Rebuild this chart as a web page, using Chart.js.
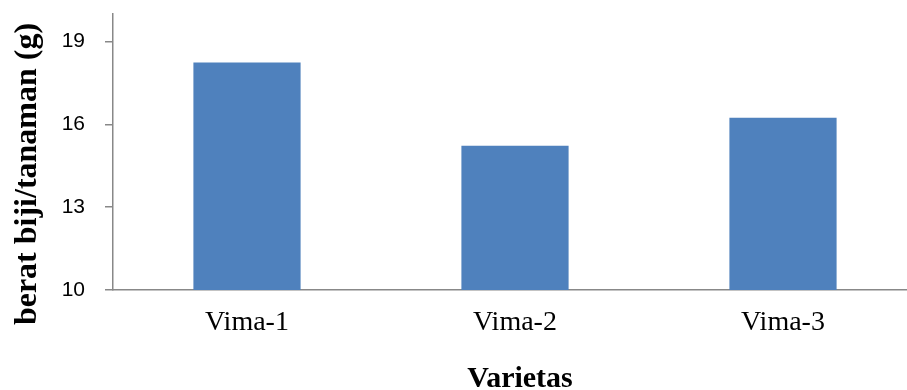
<!DOCTYPE html>
<html>
<head>
<meta charset="utf-8">
<script src="https://cdn.jsdelivr.net/npm/chart.js@4"></script>
<style>
  html, body { margin: 0; padding: 0; background: #fff; overflow: hidden; }
  #wrap { width: 920px; height: 390px; }
</style>
</head>
<body>
<div id="wrap"><canvas id="beratChart" width="920" height="390"></canvas></div>
<script>
// varietas dan berat biji per tanaman (g)
const varietas = ['Vima-1', 'Vima-2', 'Vima-3'];
const beratBiji = [18.24, 15.23, 16.24];
const yTicks = [10, 13, 16, 19];

const axisColor = '#888888';

// axis titles drawn by hand so they sit where the layout wants them
const axisTitles = {
    id: 'axisTitles',
    afterDraw(chart) {
        const ctx = chart.ctx;
        ctx.save();
        ctx.fillStyle = '#000';
        ctx.font = 'bold 32px "Liberation Serif", "Times New Roman", serif';
        ctx.textAlign = 'center';
        ctx.textBaseline = 'middle';
        ctx.translate(28, 174);
        ctx.rotate(-Math.PI / 2);
        ctx.fillText('berat biji/tanaman (g)', 0, 0);
        ctx.restore();

        ctx.save();
        ctx.fillStyle = '#000';
        ctx.font = 'bold 30px "Liberation Serif", "Times New Roman", serif';
        ctx.textAlign = 'center';
        ctx.textBaseline = 'alphabetic';
        ctx.fillText('Varietas', 520, 387);
        ctx.restore();
    }
};

// keep the scales from reserving extra room for their labels
function noLabelPadding(scale) {
    scale.paddingTop = 0;
    scale.paddingBottom = 0;
    scale.paddingLeft = 0;
    scale.paddingRight = 0;
}

const ctx = document.getElementById('beratChart');

new Chart(ctx, {
    type: 'bar',
    data: {
        labels: varietas,
        datasets: [{
            label: 'berat biji/tanaman (g)',
            data: beratBiji,
            backgroundColor: '#4F81BD',
            borderWidth: 0,
            barPercentage: 0.4,
            categoryPercentage: 1.0
        }]
    },
    options: {
        responsive: false,
        animation: false,
        layout: { padding: { top: 14, right: 3, left: 0, bottom: 0 } },
        plugins: {
            legend: { display: false },
            tooltip: { enabled: false }
        },
        scales: {
            x: {
                grid: { display: true, drawOnChartArea: false, drawTicks: false },
                border: { color: axisColor, width: 1.5 },
                ticks: {
                    color: '#000',
                    padding: 16,
                    font: { family: '"Liberation Serif", "Times New Roman", serif', size: 28 }
                },
                afterFit(scale) {
                    scale.height = 100;
                    noLabelPadding(scale);
                }
            },
            y: {
                min: 10,
                max: 20,
                afterBuildTicks(scale) {
                    scale.ticks = yTicks.map(v => ({ value: v }));
                },
                grid: {
                    drawOnChartArea: false,
                    drawTicks: true,
                    tickLength: 8,
                    color: axisColor,
                    lineWidth: 1.5
                },
                border: { color: axisColor, width: 1.5 },
                ticks: {
                    color: '#000',
                    padding: 20,
                    font: { family: '"Liberation Sans", Arial, sans-serif', size: 21 }
                },
                afterFit(scale) {
                    scale.width = 113;
                    noLabelPadding(scale);
                }
            }
        }
    },
    plugins: [axisTitles]
});
</script>
</body>
</html>
